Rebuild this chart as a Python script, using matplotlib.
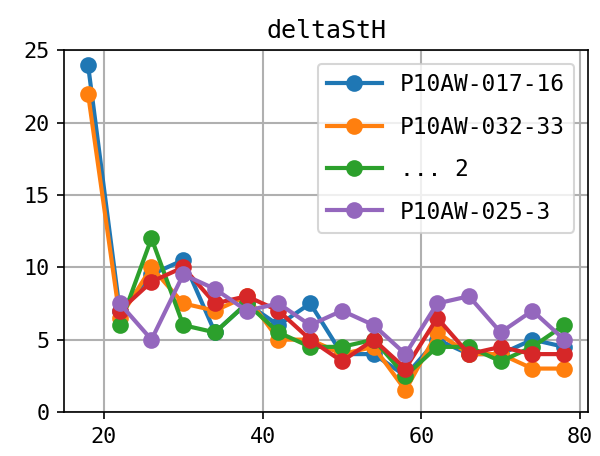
import numpy as np
import matplotlib
matplotlib.use("Agg")
import matplotlib.pyplot as plt

x_full = [18, 22, 26, 30, 34, 38, 42, 46, 50, 54, 58, 62, 66, 70, 74, 78]
x_short = x_full[1:]

blue = [24, 7, 9.5, 10.5, 5.5, 7.5, 6, 7.5, 4, 4, 2.5, 5, 4, 4, 5, 4.5]
orange = [22, 6.5, 10, 7.5, 7, 8, 5, 5, 4, 4.5, 1.5, 5.5, 4, 4, 3, 3]
green = [6, 12, 6, 5.5, 7.5, 5.5, 4.5, 4.5, 5, 2.5, 4.5, 4.5, 3.5, 4.5, 6]
red = [7, 9, 10, 7.5, 8, 7, 5, 3.5, 5, 3, 6.5, 4, 4.5, 4, 4]
purple = [7.5, 5, 9.5, 8.5, 7, 7.5, 6, 7, 6, 4, 7.5, 8, 5.5, 7, 5]

labels = ["P10AW-017-16", "P10AW-032-33", "... 2", "_hidden", "P10AW-025-3"]

plt.rcParams['font.family'] = ['DejaVu Sans Mono']
plt.rcParams['font.size'] = 10.5

fig = plt.figure(figsize=(4, 3.04), dpi=150)
ax = fig.add_axes([0.107, 0.0965, 0.873, 0.7935])

style = dict(marker='o', lw=2, ms=7)
ax.plot(x_full, blue, color='#1f77b4', label=labels[0], **style)
ax.plot(x_full, orange, color='#ff7f0e', label=labels[1], **style)
ax.plot(x_short, green, color='#2ca02c', label=labels[2], **style)
ax.plot(x_short, red, color='#d62728', label=labels[3], **style)
ax.plot(x_short, purple, color='#9467bd', label=labels[4], **style)

ax.set_ylim(0, 25)
ax.set_xticks([20, 40, 60, 80])
ax.set_yticks([0, 5, 10, 15, 20, 25])
ax.grid(True, lw=1.0)
ax.set_title("deltaStH", fontsize=12)
ax.legend(loc='upper right', labelspacing=0.85, handlelength=2.4,
          borderaxespad=0.6, fontsize=11)

fig.savefig("out.png", dpi=150)
